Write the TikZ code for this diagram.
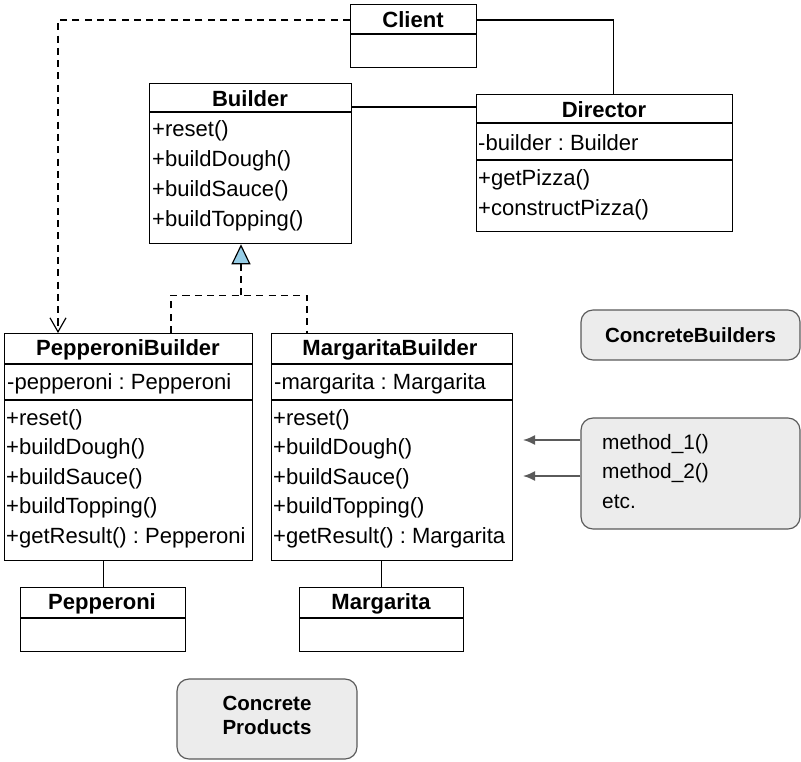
\documentclass[tikz,border=0pt]{standalone}
\usepackage{fontspec}
\setmainfont{Liberation Sans}
\usetikzlibrary{arrows.meta,calc}
\definecolor{notegray}{RGB}{236,236,236}
\definecolor{linegray}{RGB}{90,90,90}
\definecolor{realblue}{RGB}{150,205,230}
\newcommand{\px}{0.03cm}
\frenchspacing

\begin{document}
\begin{tikzpicture}[x=\px,y=-\px,
  cls/.style={draw,line width=1.1pt,anchor=north west,inner sep=0pt},
  ttl/.style={inner sep=0pt,font=\fontsize{18.8}{22}\selectfont\bfseries},
  mem/.style={anchor=west,inner sep=0pt,font=\fontsize{18.8}{22}\selectfont},
  note/.style={draw=linegray,fill=notegray,line width=1pt,rounded corners=0.36cm},
  notetxt/.style={inner sep=0pt,font=\fontsize{17.8}{25.2}\selectfont},
  asc/.style={line width=1.1pt},
  dep/.style={line width=1pt,dash pattern=on 6pt off 4.5pt,
              -{Straight Barb[length=0.42cm,width=0.48cm]}},
  real/.style={line width=1pt,dash pattern=on 6pt off 4.5pt},
  garr/.style={draw=linegray,line width=1.5pt,
               -{Latex[length=0.36cm,width=0.3cm]}}]
\useasboundingbox (0,0) rectangle (801,762);

% classes
\node[cls,minimum width=126*\px,minimum height=63*\px] (cl) at (350,4) {};
\draw[asc] (cl.north west) ++(0,30) -- ++(126,0);
\node[ttl] (cl-t) at (413,19.5) {Client};

\node[cls,minimum width=202*\px,minimum height=160*\px] (bd) at (149,83) {};
\draw[asc] (bd.north west) ++(0,29) -- ++(202,0);
\node[ttl] (bd-t) at (250,98.5) {Builder};
\foreach \t [count=\i] in {+reset(),+buildDough(),+buildSauce(),+buildTopping()}
  \node[mem] (bd-m\i) at (152,101+30*\i) {\t};

\node[cls,minimum width=256*\px,minimum height=137*\px] (dir) at (476,94) {};
\draw[asc] (dir.north west) ++(0,29) -- ++(256,0);
\draw[asc] (dir.north west) ++(0,66) -- ++(256,0);
\node[ttl] (dir-t) at (604,109.5) {Director};
\node[mem] (dir-a) at (478,142.5) {-builder : Builder};
\foreach \t [count=\i] in {+getPizza(),+constructPizza()}
  \node[mem] (dir-m\i) at (478,150+30*\i) {\t};

\node[cls,minimum width=248*\px,minimum height=227*\px] (pb) at (4,333) {};
\draw[asc] (pb.north west) ++(0,31) -- ++(248,0);
\draw[asc] (pb.north west) ++(0,67) -- ++(248,0);
\node[ttl] (pb-t) at (128,349.5) {PepperoniBuilder};
\node[mem] (pb-a) at (7,383.5) {-pepperoni : Pepperoni};
\foreach \t [count=\i] in {+reset(),+buildDough(),+buildSauce(),+buildTopping(),+getResult() : Pepperoni}
  \node[mem] (pb-m\i) at (6,390+29.5*\i) {\t};

\node[cls,minimum width=241*\px,minimum height=227*\px] (mb) at (271,333) {};
\draw[asc] (mb.north west) ++(0,31) -- ++(241,0);
\draw[asc] (mb.north west) ++(0,67) -- ++(241,0);
\node[ttl] (mb-t) at (390,349.5) {MargaritaBuilder};
\node[mem] (mb-a) at (274,383.5) {-margarita : Margarita};
\foreach \t [count=\i] in {+reset(),+buildDough(),+buildSauce(),+buildTopping(),+getResult() : Margarita}
  \node[mem] (mb-m\i) at (273,390+29.5*\i) {\t};

\node[cls,minimum width=165*\px,minimum height=64*\px] (pp) at (20,587) {};
\draw[asc] (pp.north west) ++(0,31) -- ++(165,0);
\node[ttl] (pp-t) at (102,604) {Pepperoni};

\node[cls,minimum width=164*\px,minimum height=64*\px] (mg) at (299,587) {};
\draw[asc] (mg.north west) ++(0,31) -- ++(164,0);
\node[ttl] (mg-t) at (381,604) {Margarita};

% notes
\node[note,minimum width=219*\px,minimum height=50*\px,font=\fontsize{17.5}{21}\selectfont\bfseries]
  (cb) at (690.5,335) {ConcreteBuilders};
\node[note,minimum width=219*\px,minimum height=111*\px] (nt) at (690.5,473.5) {};
\node[notetxt,anchor=west,align=left] (nt-t) at (602,471.5) {method\_1()\\method\_2()\\etc.};
\node[note,minimum width=180*\px,minimum height=80*\px] (cp) at (267,719) {};
\node[align=center,inner sep=0pt,font=\fontsize{17.5}{20.5}\selectfont\bfseries]
  (cp-t) at (267,715) {Concrete\\Products};

% connectors
\draw[dep] ([yshift=-16*\px]cl.north west) -| ([xshift=54*\px]pb.north west);
\draw[asc] ([yshift=-16*\px]cl.north east) -| ([xshift=9*\px]dir.north);
\coordinate (bdr) at ([yshift=-24*\px]bd.north east);
\draw[asc] (bdr) -- (bdr -| dir.west);
\coordinate (jn) at ([xshift=92*\px,yshift=-51*\px]bd.south west);
\draw[real] ([xshift=167*\px]pb.north west) |- (jn) -| ([xshift=36*\px]mb.north west);
\draw[real,-{Triangle[length=0.6cm,width=0.57cm,fill=realblue]}] (jn) -- (jn |- bd.south);
\draw[asc] (pp.north) -- (pp.north |- pb.south);
\draw[asc] (mg.north) -- (mg.north |- mb.south);
\coordinate (m1) at (523,440);
\coordinate (m2) at (523,476);
\draw[garr] (nt.west |- m1) -- (m1);
\draw[garr] (nt.west |- m2) -- (m2);
\end{tikzpicture}
\end{document}
